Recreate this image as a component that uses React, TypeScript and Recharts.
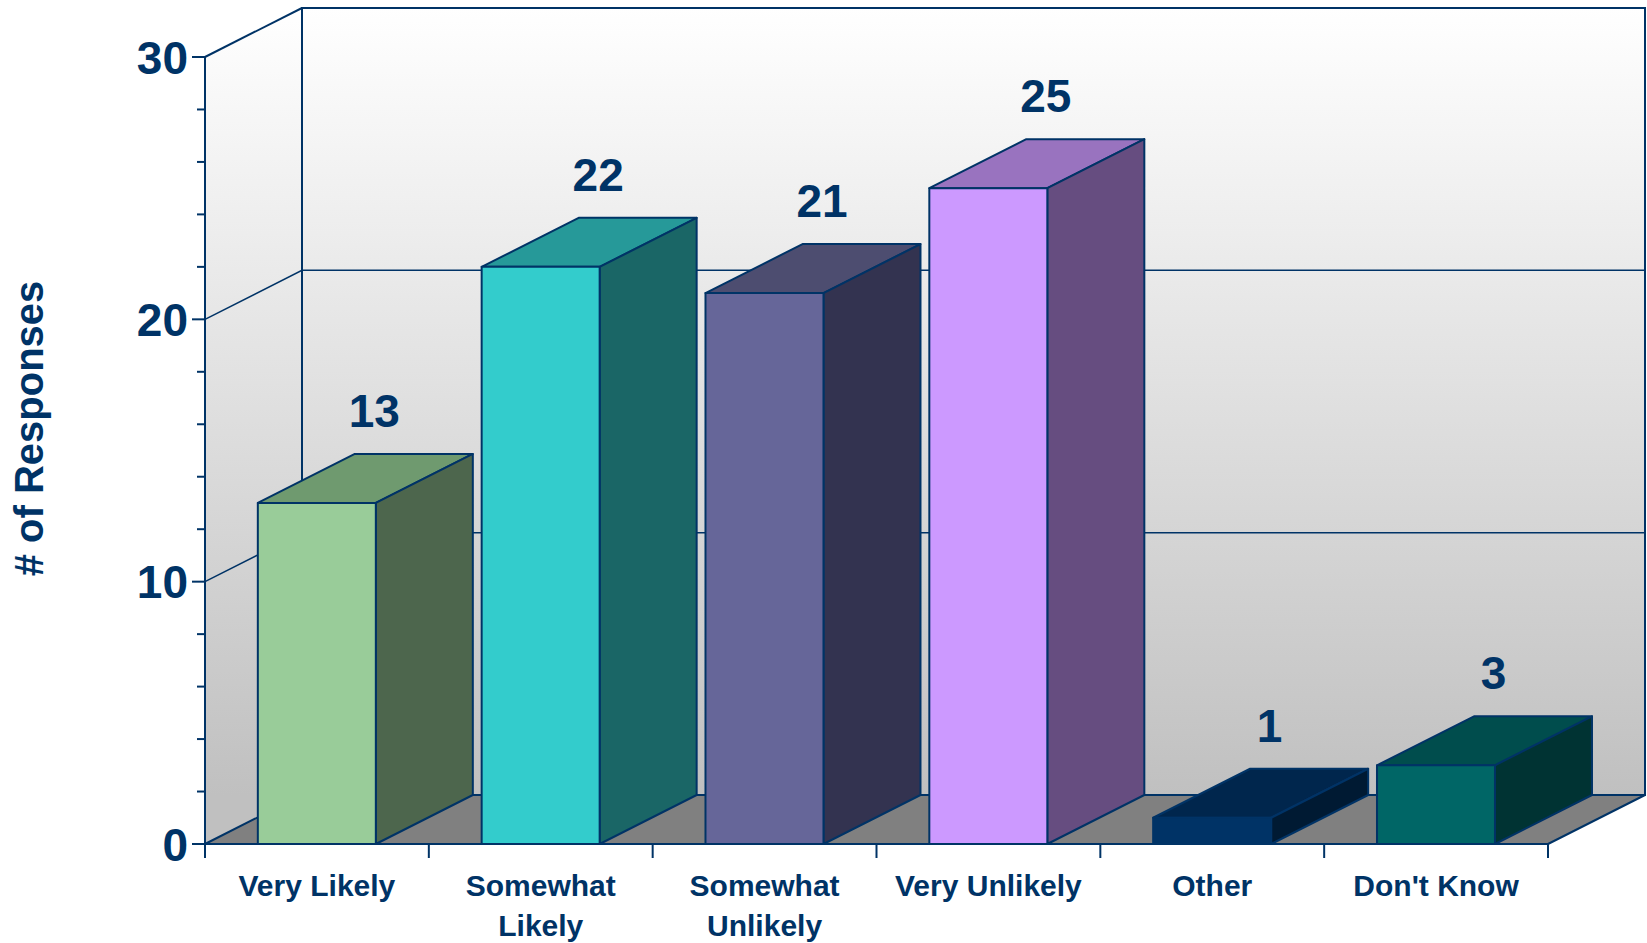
import { BarChart, Bar, XAxis, YAxis, ReferenceArea, ReferenceLine } from "recharts";

const categories = ["Very Likely", "Somewhat Likely", "Somewhat Unlikely", "Very Unlikely", "Other", "Don't Know"];
const tickLines = [["Very Likely"], ["Somewhat", "Likely"], ["Somewhat", "Unlikely"], ["Very Unlikely"], ["Other"], ["Don't Know"]];
const responses = [13, 22, 21, 25, 1, 3];
const yTicks = [0, 2, 4, 6, 8, 10, 12, 14, 16, 18, 20, 22, 24, 26, 28, 30];
const majorTicks = [0, 10, 20, 30];
const gridValues = [10, 20];

const frontColors = ["#99CC99", "#33CCCC", "#666699", "#CC99FF", "#003366", "#006666"];
const sideColors = ["#4D664D", "#1A6666", "#333350", "#664D80", "#001A33", "#003333"];
const topColors = ["#6F9A6F", "#269999", "#4D4D70", "#9973BF", "#00264D", "#004D4D"];

const data = categories.map((name, i) => ({ name, responses: responses[i] }));

const W = 1647;
const H = 943;
const M = { top: 57, right: 99, bottom: 0, left: 125 };
const Y_AXIS_W = 80;
const X_AXIS_H = 99;
const BAND = (W - M.left - Y_AXIS_W - M.right) / categories.length;
const DX = 97;
const DY = 49;
const NAVY = "#003366";
const FONT = "Arial, 'Liberation Sans', sans-serif";

function Walls(props: any) {
    const { x, y, width, height } = props;
    const bottom = y + height;
    return (
        <g>
            <defs>
                <linearGradient id="wallGrad" gradientUnits="userSpaceOnUse" x1={0} y1={y - DY} x2={0} y2={bottom - DY}>
                    <stop offset="0%" stopColor="#FFFFFF" />
                    <stop offset="100%" stopColor="#C0C0C0" />
                </linearGradient>
            </defs>
            <polygon
                points={`${x},${y} ${x + DX},${y - DY} ${x + DX},${bottom - DY} ${x},${bottom}`}
                fill="url(#wallGrad)"
            />
            <rect x={x + DX} y={y - DY} width={width} height={height} fill="url(#wallGrad)" stroke={NAVY} strokeWidth={2} />
            <polygon
                points={`${x},${bottom} ${x + DX},${bottom - DY} ${x + width + DX},${bottom - DY} ${x + width},${bottom}`}
                fill="#808080"
                stroke={NAVY}
                strokeWidth={2}
                strokeLinejoin="round"
            />
            <line x1={x} y1={y} x2={x + DX} y2={y - DY} stroke={NAVY} strokeWidth={2} />
        </g>
    );
}

function GridLine(props: any) {
    const { x1, y1, x2 } = props;
    return (
        <polyline
            points={`${x1},${y1} ${x1 + DX},${y1 - DY} ${x2 + DX},${y1 - DY}`}
            fill="none"
            stroke={NAVY}
            strokeWidth={1.5}
        />
    );
}

function Box(props: any) {
    const { x, y, width, height, index, value } = props;
    const b = y + height;
    const r = x + width;
    const v = Array.isArray(value) ? value[1] : value;
    return (
        <g stroke={NAVY} strokeWidth={2} strokeLinejoin="round">
            <polygon points={`${x},${y} ${x + DX},${y - DY} ${r + DX},${y - DY} ${r},${y}`} fill={topColors[index]} />
            <polygon points={`${r},${y} ${r + DX},${y - DY} ${r + DX},${b - DY} ${r},${b}`} fill={sideColors[index]} />
            <rect x={x} y={y} width={width} height={height} fill={frontColors[index]} />
            <text
                x={x + width / 2 + DX / 2 + 9}
                y={y - DY - 27}
                textAnchor="middle"
                fill={NAVY}
                stroke="none"
                fontFamily={FONT}
                fontWeight="bold"
                fontSize={46}
            >
                {v}
            </text>
        </g>
    );
}

function YTick(props: any) {
    const { x, y, payload } = props;
    const major = majorTicks.includes(payload.value);
    return (
        <g>
            <line x1={x - (major ? 13 : 8)} y1={y} x2={x} y2={y} stroke={NAVY} strokeWidth={2} />
            {major && (
                <text x={x - 17} y={y + 16.5} textAnchor="end" fill={NAVY} fontFamily={FONT} fontWeight="bold" fontSize={46}>
                    {payload.value}
                </text>
            )}
        </g>
    );
}

function XTick(props: any) {
    const { x, y, payload } = props;
    const i = categories.indexOf(payload.value);
    const lines = tickLines[i] || [payload.value];
    return (
        <g>
            <line x1={x - BAND / 2} y1={y} x2={x - BAND / 2} y2={y + 14} stroke={NAVY} strokeWidth={2} />
            {i === categories.length - 1 && (
                <line x1={x + BAND / 2} y1={y} x2={x + BAND / 2} y2={y + 14} stroke={NAVY} strokeWidth={2} />
            )}
            {lines.map((t, k) => (
                <text
                    key={k}
                    x={x}
                    y={y + 52 + k * 40}
                    textAnchor="middle"
                    fill={NAVY}
                    fontFamily={FONT}
                    fontWeight="bold"
                    fontSize={30}
                >
                    {t}
                </text>
            ))}
        </g>
    );
}

function YTitle(props: any) {
    const vb = props.viewBox || { x: M.left, y: M.top, width: Y_AXIS_W, height: 787 };
    const tx = vb.x - 82;
    const ty = vb.y + vb.height / 2 - 22;
    return (
        <text
            x={tx}
            y={ty}
            transform={`rotate(-90, ${tx}, ${ty})`}
            textAnchor="middle"
            fill={NAVY}
            fontFamily={FONT}
            fontWeight="bold"
            fontSize={40}
        >
            # of Responses
        </text>
    );
}

export default function App() {
    return (
        <div style={{ position: "absolute", left: 0, top: 0, width: W, height: H, background: "#fff" }}>
            <BarChart width={W} height={H} data={data} margin={M} barCategoryGap="23.6%">
                <ReferenceArea y1={0} y2={30} shape={Walls} zIndex={-90} ifOverflow="visible" />
                {gridValues.map((g) => (
                    <ReferenceLine key={g} y={g} shape={GridLine} zIndex={-80} ifOverflow="visible" />
                ))}
                <XAxis
                    dataKey="name"
                    height={X_AXIS_H}
                    interval={0}
                    tickSize={0}
                    tickMargin={0}
                    tickLine={false}
                    axisLine={{ stroke: NAVY, strokeWidth: 2 }}
                    tick={XTick}
                />
                <YAxis
                    width={Y_AXIS_W}
                    domain={[0, 30]}
                    ticks={yTicks}
                    interval={0}
                    tickSize={0}
                    tickMargin={0}
                    tickLine={false}
                    axisLine={{ stroke: NAVY, strokeWidth: 2 }}
                    tick={YTick}
                    label={{ content: YTitle }}
                />
                <Bar dataKey="responses" shape={Box} isAnimationActive={false} />
            </BarChart>
        </div>
    );
}
